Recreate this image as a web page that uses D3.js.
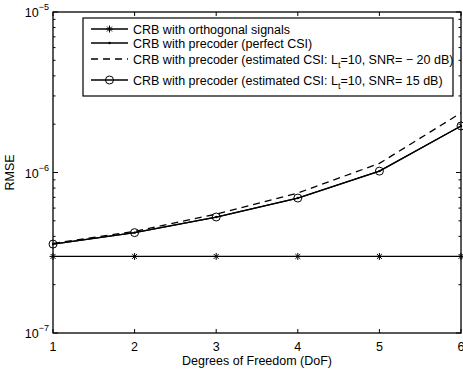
<!DOCTYPE html>
<html>
<head>
<meta charset="utf-8">
<script src="https://cdn.jsdelivr.net/npm/d3@7"></script>
<style>
  body { margin: 0; background: #fff; }
  text { font-family: "Liberation Sans", Arial, sans-serif; }
</style>
</head>
<body>
<svg id="drawing_region"></svg>
<script>
// chart data
const dof = [1, 2, 3, 4, 5, 6];
const crbOrthogonal = [3.0e-7, 3.0e-7, 3.0e-7, 3.0e-7, 3.0e-7, 3.0e-7];
const crbPerfect = [3.58e-7, 4.22e-7, 5.28e-7, 6.93e-7, 1.02e-6, 1.95e-6];
const crbEstLow = [3.62e-7, 4.3e-7, 5.5e-7, 7.45e-7, 1.14e-6, 2.35e-6];
const crbEstHigh = [3.58e-7, 4.22e-7, 5.28e-7, 6.93e-7, 1.02e-6, 1.95e-6];
const yTickExps = [-7, -6, -5];

const config = {
    width: 463,
    height: 370,
    margin: {top: 12, right: 2, bottom: 37, left: 53}
};
const fontSize = 12.5;

const svg = d3.select('#drawing_region')
    .attr('width', config.width)
    .attr('height', config.height);

const inner_width = config.width - config.margin.left - config.margin.right;
const inner_height = config.height - config.margin.top - config.margin.bottom;

const chart = svg.append('g')
    .attr('transform', `translate(${config.margin.left}, ${config.margin.top})`);

const xscale = d3.scaleLinear().domain([1, 6]).range([0, inner_width]);
const yscale = d3.scaleLog().domain([1e-7, 1e-5]).range([inner_height, 0]);

// frame
chart.append('rect')
    .attr('width', inner_width)
    .attr('height', inner_height)
    .attr('fill', 'none')
    .attr('stroke', '#000')
    .attr('stroke-width', 1.3);

// x ticks (inward, top and bottom)
dof.forEach(d => {
    const x = xscale(d);
    chart.append('line').attr('x1', x).attr('x2', x).attr('y1', inner_height).attr('y2', inner_height - 4)
        .attr('stroke', '#000');
    chart.append('line').attr('x1', x).attr('x2', x).attr('y1', 0).attr('y2', 4)
        .attr('stroke', '#000');
    chart.append('text')
        .attr('x', x).attr('y', inner_height + 18)
        .attr('text-anchor', 'middle')
        .attr('font-size', fontSize)
        .text(d);
});

// y ticks (log, major + minor)
const minorTicks = [];
for (let e = -7; e < -5; e++) {
    for (let m = 2; m <= 9; m++) minorTicks.push(m * Math.pow(10, e));
}
minorTicks.forEach(v => {
    const y = yscale(v);
    chart.append('line').attr('x1', 0).attr('x2', 2.5).attr('y1', y).attr('y2', y).attr('stroke', '#000');
    chart.append('line').attr('x1', inner_width).attr('x2', inner_width - 2.5).attr('y1', y).attr('y2', y).attr('stroke', '#000');
});
yTickExps.forEach(e => {
    const y = yscale(Math.pow(10, e));
    chart.append('line').attr('x1', 0).attr('x2', 5).attr('y1', y).attr('y2', y).attr('stroke', '#000');
    chart.append('line').attr('x1', inner_width).attr('x2', inner_width - 5).attr('y1', y).attr('y2', y).attr('stroke', '#000');
    const t = chart.append('text')
        .attr('x', -4).attr('y', y + 5)
        .attr('text-anchor', 'end')
        .attr('font-size', fontSize);
    t.append('tspan').text('10');
    t.append('tspan').attr('dy', -7).attr('font-size', 9).text('\u2212' + Math.abs(e));
});

// series
const line = d3.line()
    .x((d, i) => xscale(dof[i]))
    .y(d => yscale(d));

const series = [
    {values: crbOrthogonal, dash: null, marker: 'star'},
    {values: crbPerfect, dash: null, marker: 'dot'},
    {values: crbEstLow, dash: '7,5', marker: null},
    {values: crbEstHigh, dash: null, marker: 'circle'}
];

function drawMarker(g, type, x, y) {
    if (type === 'star') {
        const s = 3.5;
        g.append('path')
            .attr('d', `M${x - s},${y}L${x + s},${y}M${x},${y - s}L${x},${y + s}` +
                `M${x - s * 0.7},${y - s * 0.7}L${x + s * 0.7},${y + s * 0.7}` +
                `M${x - s * 0.7},${y + s * 0.7}L${x + s * 0.7},${y - s * 0.7}`)
            .attr('stroke', '#000').attr('stroke-width', 1);
    } else if (type === 'dot') {
        g.append('circle').attr('cx', x).attr('cy', y).attr('r', 1.2).attr('fill', '#000');
    } else if (type === 'circle') {
        g.append('circle').attr('cx', x).attr('cy', y).attr('r', 4)
            .attr('fill', 'none').attr('stroke', '#000').attr('stroke-width', 1);
    }
}

series.forEach(s => {
    chart.append('path')
        .attr('d', line(s.values))
        .attr('fill', 'none')
        .attr('stroke', '#000')
        .attr('stroke-width', 1.3)
        .attr('stroke-dasharray', s.dash);
    if (s.marker) {
        s.values.forEach((v, i) => drawMarker(chart, s.marker, xscale(dof[i]), yscale(v)));
    }
});

// legend
const legend = svg.append('g');
legend.append('rect')
    .attr('x', 83).attr('y', 18)
    .attr('width', 370).attr('height', 78)
    .attr('fill', '#fff')
    .attr('stroke', '#000')
    .attr('stroke-width', 1.2);

const legendRows = [
    {y: 29, dash: null, marker: 'star', label: 'CRB with orthogonal signals'},
    {y: 43, dash: null, marker: 'dot', label: 'CRB with precoder (perfect CSI)'},
    {y: 59, dash: '7,5', marker: null, label: ['CRB with precoder (estimated CSI: L', 't', '=10, SNR= \u2212 20 dB)']},
    {y: 80, dash: null, marker: 'circle', label: ['CRB with precoder (estimated CSI: L', 't', '=10, SNR= 15 dB)']}
];

legendRows.forEach(r => {
    legend.append('line')
        .attr('x1', 91).attr('x2', 128)
        .attr('y1', r.y).attr('y2', r.y)
        .attr('stroke', '#000')
        .attr('stroke-width', 1.3)
        .attr('stroke-dasharray', r.dash);
    if (r.marker) drawMarker(legend, r.marker, 109.5, r.y);
    const t = legend.append('text')
        .attr('x', 133).attr('y', r.y + 4.5)
        .attr('font-size', fontSize);
    if (Array.isArray(r.label)) {
        t.append('tspan').text(r.label[0]);
        t.append('tspan').attr('dy', 4).attr('font-size', 9).text(r.label[1]);
        t.append('tspan').attr('dy', -4).text(r.label[2]);
    } else {
        t.text(r.label);
    }
});

// axis labels
svg.append('text')
    .attr('x', config.margin.left + inner_width / 2)
    .attr('y', 365)
    .attr('text-anchor', 'middle')
    .attr('font-size', fontSize)
    .text('Degrees of Freedom (DoF)');

svg.append('text')
    .attr('transform', `translate(14, ${config.margin.top + inner_height / 2}) rotate(-90)`)
    .attr('text-anchor', 'middle')
    .attr('font-size', fontSize)
    .text('RMSE');
</script>
</body>
</html>
